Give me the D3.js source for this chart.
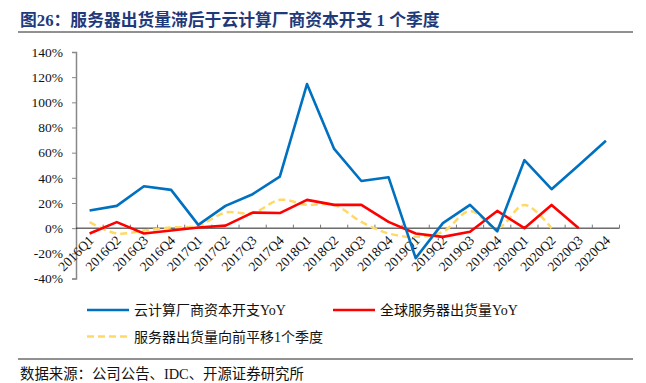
<!DOCTYPE html>
<html>
<head>
<meta charset="utf-8">
<script src="https://cdn.jsdelivr.net/npm/d3@7"></script>
<style>
  body { margin: 0; background: #fff; }
  svg { display: block; font-family: "Liberation Serif", "Noto Sans CJK SC", serif; }
</style>
</head>
<body>
<svg id="chart" width="646" height="383"></svg>
<script>
const quarters = ['2016Q1','2016Q2','2016Q3','2016Q4','2017Q1','2017Q2','2017Q3','2017Q4',
    '2018Q1','2018Q2','2018Q3','2018Q4','2019Q1','2019Q2','2019Q3','2019Q4',
    '2020Q1','2020Q2','2020Q3','2020Q4'];

// 云计算厂商资本开支YoY (%)
const capexYoY = [14, 17.7, 33.3, 30.4, 2.6, 17.7, 27, 41, 114.5, 63, 37.5, 40.5,
    -23.8, 4, 18.5, -2.6, 54, 31, 50, 69.5];

// 全球服务器出货量YoY (%)
const serverYoY = [-4.2, 4.8, -4.2, -1.9, 0.5, 2, 12.4, 12, 22.5, 18.5, 18.5, 5,
    -4.2, -6.9, -2.9, 13.7, 0, 18.5, 0, null];

// 服务器出货量向前平移1个季度 (%)
const serverShifted = [4.8, -4.2, -1.9, 0.5, 2, 12.4, 12, 22.5, 18.5, 18.5, 5, -4.2,
    -6.9, -2.9, 13.7, 0, 18.5, 0, null, null];

const yTicks = [-40, -20, 0, 20, 40, 60, 80, 100, 120, 140];

const svg = d3.select('#chart');
const margin = { left: 76, right: 619.5, top: 52, bottom: 278.5 };

// title
svg.append('text')
    .attr('x', 20)
    .attr('y', 26)
    .attr('font-size', '16.8px')
    .attr('font-weight', 'bold')
    .attr('fill', '#1F3A7A')
    .text('图26：服务器出货量滞后于云计算厂商资本开支 1 个季度');

svg.append('line')
    .attr('x1', 18).attr('x2', 633)
    .attr('y1', 32).attr('y2', 32)
    .attr('stroke', '#222')
    .attr('stroke-width', 1);

const x = d3.scaleBand()
    .domain(quarters)
    .range([margin.left, margin.right]);

const y = d3.scaleLinear()
    .domain([-40, 140])
    .range([margin.bottom, margin.top]);

// y axis
const yAxis = svg.append('g')
    .attr('transform', `translate(${margin.left},0)`)
    .call(d3.axisLeft(y).tickValues(yTicks).tickSize(4).tickPadding(9).tickFormat(d => d + '%'));
yAxis.select('.domain').attr('stroke', '#888').attr('stroke-width', 1.5);
yAxis.selectAll('.tick line').attr('stroke', '#888');
yAxis.selectAll('.tick text')
    .attr('font-size', '13.5px')
    .attr('fill', '#111')
    .attr('font-family', '"Liberation Serif", serif');

// x axis at 0%
const xAxis = svg.append('g')
    .attr('transform', `translate(0,${y(0)})`);
xAxis.append('line')
    .attr('x1', margin.left).attr('x2', margin.right)
    .attr('stroke', '#222').attr('stroke-width', 1);
const boundaries = quarters.map(q => x(q)).concat([margin.right]);
xAxis.selectAll('line.tk')
    .data(boundaries.slice(1))
    .enter()
    .append('line')
    .attr('class', 'tk')
    .attr('x1', d => d).attr('x2', d => d)
    .attr('y1', 0).attr('y2', -3.5)
    .attr('stroke', '#777');
xAxis.selectAll('text')
    .data(quarters)
    .enter()
    .append('text')
    .attr('transform', d => `translate(${x(d) + x.bandwidth() / 2 + 5},${13}) rotate(-45)`)
    .attr('text-anchor', 'end')
    .attr('font-size', '13.5px')
    .attr('fill', '#111')
    .text(d => d);

const cx = q => x(q) + x.bandwidth() / 2;

const line = d3.line()
    .defined(d => d[1] !== null)
    .x(d => cx(d[0]))
    .y(d => y(d[1]));

const smooth = d3.line()
    .defined(d => d[1] !== null)
    .x(d => cx(d[0]))
    .y(d => y(d[1]))
    .curve(d3.curveCatmullRom.alpha(0.5));

svg.append('path')
    .datum(quarters.map((q, i) => [q, serverShifted[i]]))
    .attr('d', smooth)
    .attr('fill', 'none')
    .attr('stroke', '#FFD966')
    .attr('stroke-width', 2.5)
    .attr('stroke-dasharray', '7,4');

svg.append('path')
    .datum(quarters.map((q, i) => [q, serverYoY[i]]))
    .attr('d', line)
    .attr('fill', 'none')
    .attr('stroke', '#FF0000')
    .attr('stroke-width', 2.6)
    .attr('stroke-linejoin', 'round');

svg.append('path')
    .datum(quarters.map((q, i) => [q, capexYoY[i]]))
    .attr('d', line)
    .attr('fill', 'none')
    .attr('stroke', '#0070C0')
    .attr('stroke-width', 2.6)
    .attr('stroke-linejoin', 'round');

// legend
const legendItems = [
    { label: '云计算厂商资本开支YoY', color: '#0070C0', dash: null, x: 87, y: 310 },
    { label: '全球服务器出货量YoY', color: '#FF0000', dash: null, x: 333, y: 310 },
    { label: '服务器出货量向前平移1个季度', color: '#FFD966', dash: '7,4', x: 87, y: 336.5 }
];
const legend = svg.append('g')
    .selectAll('g')
    .data(legendItems)
    .enter()
    .append('g')
    .attr('transform', d => `translate(${d.x},${d.y})`);
legend.append('line')
    .attr('x1', 0).attr('x2', 42)
    .attr('stroke', d => d.color)
    .attr('stroke-width', 2.5)
    .attr('stroke-dasharray', d => d.dash);
legend.append('text')
    .attr('x', 47)
    .attr('y', 5)
    .attr('font-size', '14px')
    .attr('fill', '#111')
    .text(d => d.label);

// footer
svg.append('line')
    .attr('x1', 18).attr('x2', 633)
    .attr('y1', 359).attr('y2', 359)
    .attr('stroke', '#222')
    .attr('stroke-width', 1);

svg.append('text')
    .attr('x', 20)
    .attr('y', 379)
    .attr('font-size', '14.4px')
    .attr('fill', '#111')
    .text('数据来源：公司公告、IDC、开源证券研究所');
</script>
</body>
</html>
